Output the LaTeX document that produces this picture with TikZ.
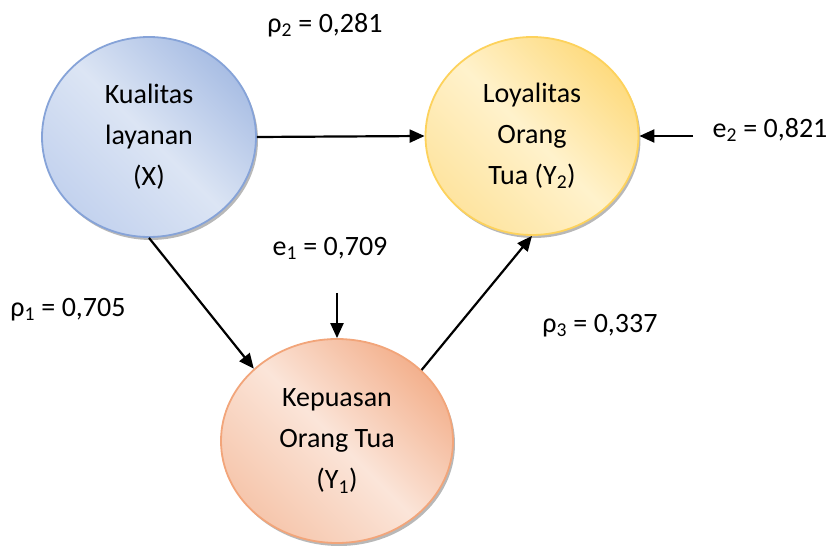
\documentclass[tikz,border=0pt]{standalone}
\usepackage{fontspec}
\setmainfont{Carlito}
\usetikzlibrary{shapes.geometric,arrows.meta,shadows}
\definecolor{xdark}{HTML}{A9BEE4}
\definecolor{xlight}{HTML}{DCE5F4}
\definecolor{xmid}{HTML}{C3D2EE}
\definecolor{xborder}{HTML}{86A3D8}
\definecolor{ydark}{HTML}{FEDB80}
\definecolor{ylight}{HTML}{FFF2CC}
\definecolor{ymid}{HTML}{FEE4A0}
\definecolor{yborder}{HTML}{FDD25C}
\definecolor{odark}{HTML}{F3B18E}
\definecolor{olight}{HTML}{FBE5D9}
\definecolor{omid}{HTML}{F6C6AC}
\definecolor{oborder}{HTML}{F2A57A}
\tikzset{
  var/.style={ellipse, inner sep=0pt, align=center, line width=1.8pt,
    font=\fontsize{28}{41}\selectfont,
    drop shadow={shadow xshift=2pt, shadow yshift=-3pt, fill=black, opacity=0.28}},
  lab/.style={font=\fontsize{28}{34}\selectfont, inner sep=0pt},
  arr/.style={line width=2.2pt, -{Triangle[length=15pt,width=13pt]}}
}
\begin{document}
\begin{tikzpicture}[x=1pt,y=-1pt]
\useasboundingbox (0,0) rectangle (830,553);
\node[var, minimum width=214pt, minimum height=200pt, draw=xborder,
  top color=xdark, bottom color=xmid, middle color=xlight, shading angle=-45] (X) at (149,137)
  {Kualitas\\layanan\\(X)};
\node[var, minimum width=213pt, minimum height=198pt, draw=yborder,
  top color=ydark, bottom color=ymid, middle color=ylight, shading angle=-45] (Y2) at (532,136)
  {Loyalitas\\Orang\\Tua (Y\textsubscript{2})};
\node[var, minimum width=232pt, minimum height=204pt, draw=oborder,
  top color=odark, bottom color=omid, middle color=olight, shading angle=-45] (Y1) at (337,441)
  {Kepuasan\\Orang Tua\\(Y\textsubscript{1})};
\node[lab] (r2) at (325,25) {ρ\textsubscript{2} = 0,281};
\node[lab] (e1) at (330,248) {e\textsubscript{1} = 0,709};
\node[lab] (r1) at (68,310) {ρ\textsubscript{1} = 0,705};
\node[lab] (r3) at (600,326) {ρ\textsubscript{3} = 0,337};
\node[lab] (e2) at (770,130) {e\textsubscript{2} = 0,821};
\coordinate (e1s) at (337,293);
\coordinate (e2s) at (693,136);
\draw[arr] (X.east) -- (Y2.west);
\draw[arr] (X.south) -- (Y1.139);
\draw[arr] (Y1.40) -- (Y2.south);
\draw[arr] (e1s) -- (Y1.north);
\draw[arr] (e2s) -- (Y2.east);
\end{tikzpicture}
\end{document}
